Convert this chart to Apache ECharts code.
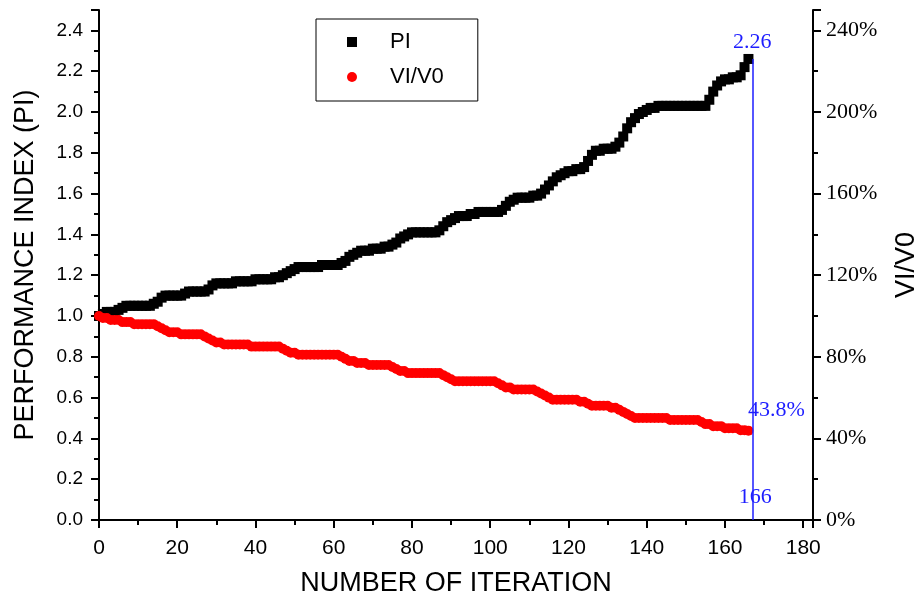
<!DOCTYPE html>
<html><head><meta charset="utf-8">
<script src="https://cdn.jsdelivr.net/npm/echarts@6/dist/echarts.min.js"></script>
<style>html,body{margin:0;padding:0;background:#fff}#c{width:922px;height:601px}</style>
</head><body><div id="c"></div>
<script>
// Performance index (PI), one value per iteration 0..166
const PI_VALUES = [
  1.00, 1.01, 1.02, 1.02, 1.02, 1.03, 1.04, 1.05, 1.05, 1.05,
  1.05, 1.05, 1.05, 1.05, 1.06, 1.07, 1.09, 1.10, 1.10, 1.10,
  1.10, 1.10, 1.11, 1.12, 1.12, 1.12, 1.12, 1.12, 1.13, 1.15,
  1.16, 1.16, 1.16, 1.16, 1.16, 1.17, 1.17, 1.17, 1.17, 1.17,
  1.18, 1.18, 1.18, 1.18, 1.18, 1.19, 1.19, 1.20, 1.21, 1.22,
  1.23, 1.24, 1.24, 1.24, 1.24, 1.24, 1.24, 1.25, 1.25, 1.25,
  1.25, 1.25, 1.26, 1.27, 1.29, 1.30, 1.31, 1.32, 1.32, 1.32,
  1.33, 1.33, 1.33, 1.34, 1.34, 1.35, 1.36, 1.38, 1.39, 1.40,
  1.41, 1.41, 1.41, 1.41, 1.41, 1.41, 1.41, 1.42, 1.44, 1.46,
  1.47, 1.48, 1.49, 1.49, 1.49, 1.50, 1.50, 1.51, 1.51, 1.51,
  1.51, 1.51, 1.51, 1.52, 1.54, 1.56, 1.57, 1.58, 1.58, 1.58,
  1.58, 1.59, 1.59, 1.60, 1.62, 1.64, 1.66, 1.68, 1.69, 1.70,
  1.71, 1.71, 1.72, 1.72, 1.73, 1.76, 1.79, 1.81, 1.81, 1.82,
  1.82, 1.82, 1.83, 1.85, 1.88, 1.92, 1.95, 1.97, 1.99, 2.00,
  2.01, 2.02, 2.02, 2.03, 2.03, 2.03, 2.03, 2.03, 2.03, 2.03,
  2.03, 2.03, 2.03, 2.03, 2.03, 2.03, 2.06, 2.10, 2.13, 2.15,
  2.16, 2.16, 2.17, 2.17, 2.18, 2.22, 2.26
];
// VI/V0 ratio, one value per iteration 0..166
const VR_VALUES = [
  1.00, 0.99, 0.99, 0.98, 0.98, 0.98, 0.97, 0.97, 0.97, 0.96,
  0.96, 0.96, 0.96, 0.96, 0.96, 0.95, 0.94, 0.93, 0.92, 0.92,
  0.92, 0.91, 0.91, 0.91, 0.91, 0.91, 0.91, 0.90, 0.89, 0.88,
  0.87, 0.87, 0.86, 0.86, 0.86, 0.86, 0.86, 0.86, 0.86, 0.85,
  0.85, 0.85, 0.85, 0.85, 0.85, 0.85, 0.85, 0.84, 0.83, 0.82,
  0.82, 0.81, 0.81, 0.81, 0.81, 0.81, 0.81, 0.81, 0.81, 0.81,
  0.81, 0.81, 0.80, 0.79, 0.78, 0.78, 0.77, 0.77, 0.77, 0.76,
  0.76, 0.76, 0.76, 0.76, 0.76, 0.75, 0.74, 0.73, 0.73, 0.72,
  0.72, 0.72, 0.72, 0.72, 0.72, 0.72, 0.72, 0.72, 0.71, 0.70,
  0.69, 0.68, 0.68, 0.68, 0.68, 0.68, 0.68, 0.68, 0.68, 0.68,
  0.68, 0.68, 0.67, 0.66, 0.65, 0.65, 0.64, 0.64, 0.64, 0.64,
  0.64, 0.64, 0.63, 0.62, 0.61, 0.60, 0.59, 0.59, 0.59, 0.59,
  0.59, 0.59, 0.59, 0.58, 0.58, 0.57, 0.56, 0.56, 0.56, 0.56,
  0.56, 0.55, 0.55, 0.54, 0.53, 0.52, 0.51, 0.50, 0.50, 0.50,
  0.50, 0.50, 0.50, 0.50, 0.50, 0.50, 0.49, 0.49, 0.49, 0.49,
  0.49, 0.49, 0.49, 0.49, 0.48, 0.47, 0.47, 0.46, 0.46, 0.46,
  0.45, 0.45, 0.45, 0.45, 0.44, 0.44, 0.438
];
const SERIES_NAMES = ['PI', 'VI/V0'];
const MARKER_ITER = 167;          // position of the blue guide line
const ANNOT_PI = '2.26';
const ANNOT_VR = '43.8%';
const ANNOT_ITER = '166';

const SANS = '"Liberation Sans", Arial, sans-serif';
const NARROW = '"Liberation Sans Narrow", "Arial Narrow", "Liberation Sans", sans-serif';
const SERIF = '"Liberation Serif", "Times New Roman", serif';
const BLUE = '#1e1eff';

const piData = PI_VALUES.map((v, i) => [i, v]);
const vrData = VR_VALUES.map((v, i) => [i, v]);
const last = PI_VALUES.length - 1;

const blueLabel = (text, off) => ({
  show: true, position: 'inside', offset: off, formatter: text,
  color: BLUE, fontFamily: SERIF, fontSize: 22
});

const chart = echarts.init(document.getElementById('c'), null, { renderer: 'canvas' });
chart.setOption({
  animation: false,
  backgroundColor: '#fff',
  grid: { left: 99, right: 109, top: 10, bottom: 81, containLabel: false, outerBoundsMode: 'none' },
  legend: {
    orient: 'vertical', left: 316, top: 19,
    padding: [12, 34, 13, 31], itemGap: 13, itemWidth: 10, itemHeight: 10,
    borderColor: '#000', borderWidth: 1,
    textStyle: { fontFamily: SANS, fontSize: 22, color: '#000', padding: [0, 0, 0, 28], lineHeight: 22 },
    data: [{ name: SERIES_NAMES[0], icon: 'rect' }, { name: SERIES_NAMES[1], icon: 'circle' }]
  },
  xAxis: {
    type: 'value', min: 0, max: 182.5, interval: 20,
    name: 'NUMBER OF ITERATION', nameLocation: 'middle', nameGap: 50,
    nameTextStyle: { fontFamily: SANS, fontSize: 27, color: '#000' },
    axisLine: { onZero: false, lineStyle: { color: '#000', width: 2 } },
    axisTick: { length: 8, lineStyle: { color: '#000', width: 2 } },
    minorTick: { show: true, splitNumber: 2, length: 5, lineStyle: { color: '#000', width: 2 } },
    splitLine: { show: false },
    axisLabel: { fontFamily: NARROW, fontSize: 21, color: '#000', margin: 18,
      formatter: v => (Math.abs(v % 20) < 1e-9 ? String(v) : '') }
  },
  yAxis: [{
    type: 'value', min: 0, max: 2.5, interval: 0.2, position: 'left',
    name: 'PERFORMANCE INDEX (PI)', nameLocation: 'middle', nameRotate: 90, nameGap: 60,
    nameTextStyle: { fontFamily: SANS, fontSize: 27, color: '#000' },
    axisLine: { show: true, onZero: false, lineStyle: { color: '#000', width: 2 } },
    axisTick: { show: true, length: 8, lineStyle: { color: '#000', width: 2 } },
    minorTick: { show: true, splitNumber: 2, length: 5, lineStyle: { color: '#000', width: 2 } },
    splitLine: { show: false },
    axisLabel: { fontFamily: SANS, fontSize: 19, color: '#000', margin: 16,
      formatter: v => (Math.abs(v - 2.5) < 1e-9 ? '' : v.toFixed(1)) }
  }, {
    type: 'value', min: 0, max: 250, interval: 40, position: 'right',
    name: 'VI/V0', nameLocation: 'middle', nameRotate: 90, nameGap: 80,
    nameTextStyle: { fontFamily: SANS, fontSize: 27, color: '#000' },
    axisLine: { show: true, onZero: false, lineStyle: { color: '#000', width: 2 } },
    axisTick: { show: true, length: 8, lineStyle: { color: '#000', width: 2 } },
    minorTick: { show: true, splitNumber: 2, length: 5, lineStyle: { color: '#000', width: 2 } },
    splitLine: { show: false },
    axisLabel: { fontFamily: SERIF, fontSize: 22, color: '#000', margin: 13,
      formatter: v => (Math.abs(v - 250) < 1e-9 ? '' : Math.round(v) + '%') }
  }],
  series: [{
    name: SERIES_NAMES[0], type: 'scatter', yAxisIndex: 0, data: piData,
    symbol: 'rect', symbolSize: 10, itemStyle: { color: '#000', opacity: 1 }, z: 2,
    markLine: {
      silent: true, symbol: ['none', 'none'], label: { show: false },
      lineStyle: { color: BLUE, width: 1.5, type: 'solid' },
      data: [[{ coord: [MARKER_ITER, 0] }, { coord: [MARKER_ITER, PI_VALUES[last]] }]]
    },
    markPoint: {
      silent: true, symbol: 'circle', symbolSize: 1, itemStyle: { color: 'rgba(0,0,0,0)' },
      data: [
        { coord: [MARKER_ITER, PI_VALUES[last]], label: blueLabel(ANNOT_PI, [0, -17]) },
        { coord: [MARKER_ITER, 0], label: blueLabel(ANNOT_ITER, [3, -23]) }
      ]
    }
  }, {
    name: SERIES_NAMES[1], type: 'scatter', yAxisIndex: 0, data: vrData,
    symbol: 'circle', symbolSize: 10, itemStyle: { color: '#ff0000', opacity: 1 }, z: 3,
    markPoint: {
      silent: true, symbol: 'circle', symbolSize: 1, itemStyle: { color: 'rgba(0,0,0,0)' },
      data: [{ coord: [last, VR_VALUES[last]], label: blueLabel(ANNOT_VR, [28, -20]) }]
    }
  }]
});
</script></body></html>
